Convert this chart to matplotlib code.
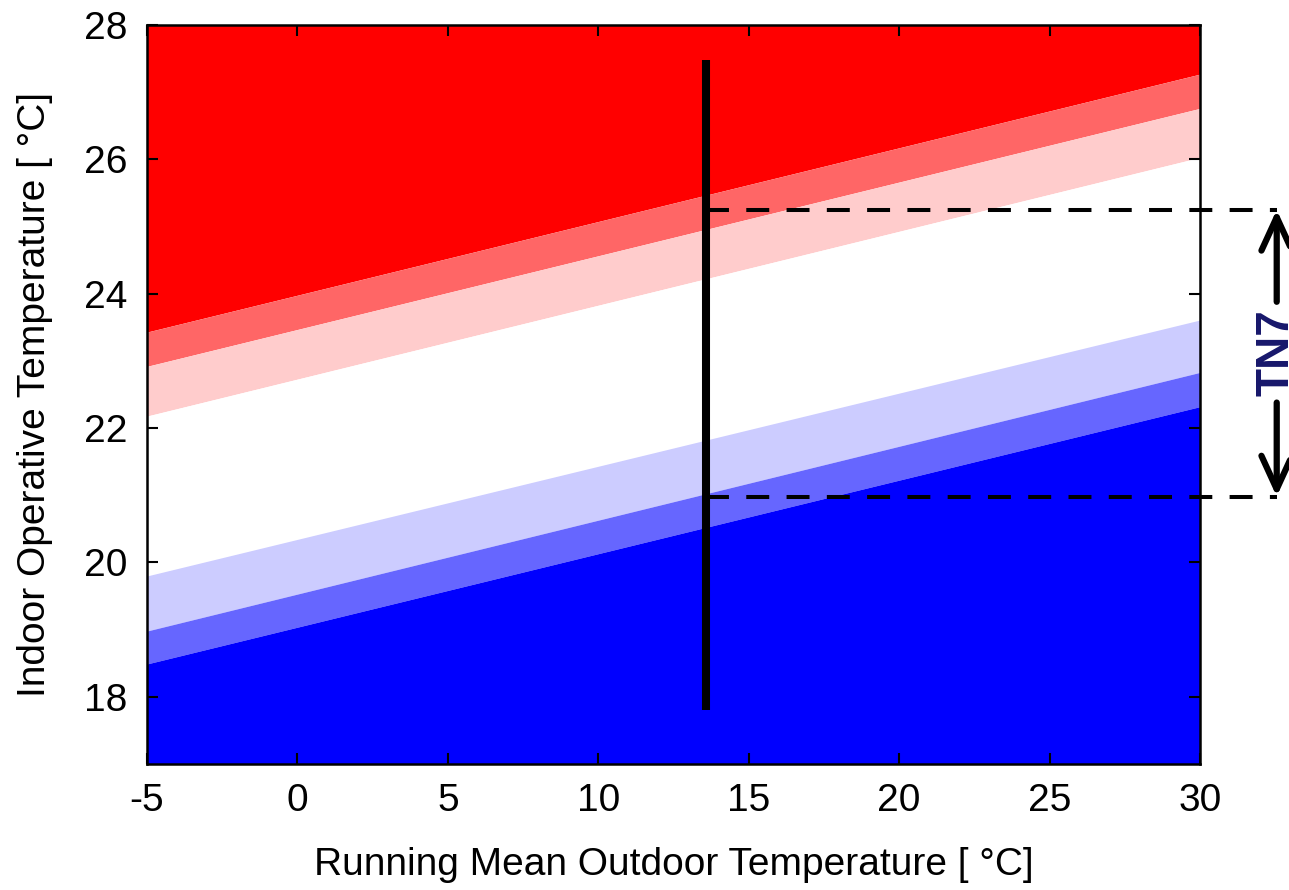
import matplotlib
matplotlib.use("Agg")
from matplotlib import pyplot as plt

plt.rcParams['font.family'] = ['Liberation Sans', 'DejaVu Sans']
plt.rcParams['axes.unicode_minus'] = False

# boundary lines, values at x = -5 and x = 30 (top to bottom)
x_ends = [-5, 30]
red_lo = [23.42, 27.26]
midred_lo = [22.91, 26.75]
lightred_lo = [22.17, 26.02]
white_lo = [19.79, 23.60]
lightblue_lo = [18.97, 22.82]
midblue_lo = [18.48, 22.31]
y_top = [28, 28]
y_bot = [17, 17]

band_colors = ['#FF0000', '#FF6666', '#FFCCCC', '#FFFFFF', '#CCCCFF', '#6666FF', '#0000FF']

# marker line and TN7 limits
x_mark = 13.57
mark_range = [17.81, 27.48]
tn7_upper = 25.25
tn7_lower = 20.98
x_arrow = 32.55

fig = plt.figure(figsize=(12.89, 8.90), dpi=100)
ax = fig.add_axes([147 / 1289, 1 - 764 / 890, (1200 - 147) / 1289, (764 - 25) / 890])

bounds = [y_top, red_lo, midred_lo, lightred_lo, white_lo, lightblue_lo, midblue_lo, y_bot]
for i, c in enumerate(band_colors):
    ax.fill_between(x_ends, bounds[i], bounds[i + 1], facecolor=c, edgecolor='none')

ax.plot([x_mark, x_mark], mark_range, color='black', lw=5.8, solid_capstyle='butt', zorder=5)

for yv in [tn7_upper, tn7_lower]:
    ax.plot([x_mark, x_arrow], [yv, yv], color='black', lw=2.9,
            linestyle=(0, (5.7, 4.3)), clip_on=False, zorder=5)

arrow_style = '->,head_length=2.4,head_width=1.1'
ax.annotate('', xy=(x_arrow, tn7_upper), xytext=(x_arrow, 23.88),
            arrowprops=dict(arrowstyle=arrow_style, lw=4.5, color='black',
                            shrinkA=0, shrinkB=0), annotation_clip=False)
ax.annotate('', xy=(x_arrow, tn7_lower), xytext=(x_arrow, 22.38),
            arrowprops=dict(arrowstyle=arrow_style, lw=4.5, color='black',
                            shrinkA=0, shrinkB=0), annotation_clip=False)
ax.text(x_arrow, 23.12, 'TN7', rotation=90, ha='center', va='center', fontsize=33,
        fontweight='bold', color='#17176b', clip_on=False)

ax.set_xlim(-5, 30)
ax.set_ylim(17, 28)
ax.set_xticks([-5, 0, 5, 10, 15, 20, 25, 30])
ax.set_yticks([18, 20, 22, 24, 26, 28])
ax.tick_params(direction='in', length=8, width=1.5, labelsize=28, top=True, right=True, pad=14)
for s in ax.spines.values():
    s.set_linewidth(1.8)
    s.set_zorder(6)

ax.set_xlabel('Running Mean Outdoor Temperature [ °C]', fontsize=28, labelpad=20)
ax.set_ylabel('Indoor Operative Temperature [ °C]', fontsize=28, labelpad=22)

fig.savefig('out.png', dpi=100)
